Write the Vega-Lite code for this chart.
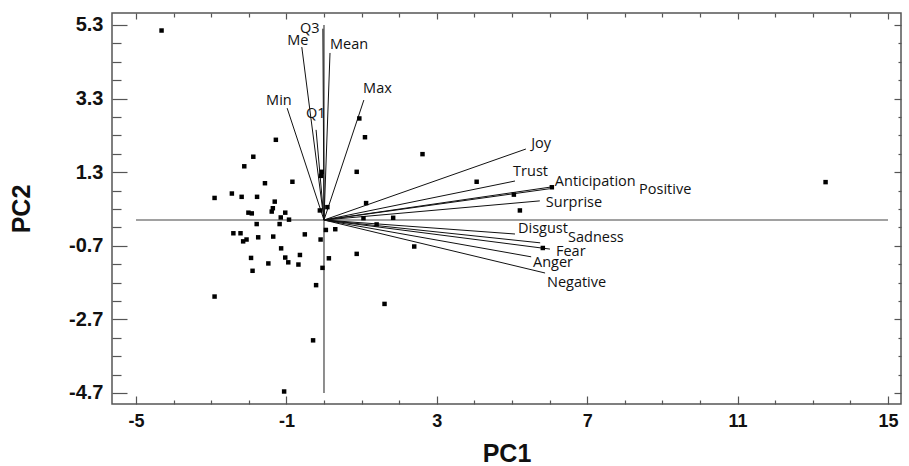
{
  "$schema": "https://vega.github.io/schema/vega-lite/v6.json",
  "width": 789,
  "height": 391,
  "autosize": "none",
  "padding": {"left": 112, "top": 13, "right": 8, "bottom": 62},
  "background": "white",
  "config": {
    "view": {"stroke": "#555555", "strokeWidth": 1.5},
    "axis": {"domain": false, "grid": false, "tickColor": "#555555", "tickWidth": 1.2,
      "labelFont": "Liberation Sans", "labelFontWeight": "bold", "labelFontSize": 18, "labelColor": "#111111",
      "titleFont": "Liberation Sans", "titleFontWeight": "bold", "titleFontSize": 25, "titleColor": "#111111"}
  },
  "datasets": {
    "points": [
      {"pc1": -4.32, "pc2": 5.15}, {"pc1": -1.28, "pc2": 2.18}, {"pc1": -1.88, "pc2": 1.72}, {"pc1": -2.12, "pc2": 1.46},
      {"pc1": -1.57, "pc2": 1.0}, {"pc1": -0.84, "pc2": 1.04}, {"pc1": -2.91, "pc2": 0.6}, {"pc1": -2.45, "pc2": 0.72},
      {"pc1": -2.19, "pc2": 0.63}, {"pc1": -1.78, "pc2": 0.63}, {"pc1": -1.31, "pc2": 0.5}, {"pc1": -2.01, "pc2": 0.2},
      {"pc1": -1.92, "pc2": 0.18}, {"pc1": -1.36, "pc2": 0.32}, {"pc1": -1.39, "pc2": 0.23}, {"pc1": -1.03, "pc2": 0.2},
      {"pc1": -1.15, "pc2": 0.07}, {"pc1": -0.93, "pc2": 0.01}, {"pc1": -1.79, "pc2": -0.11}, {"pc1": -1.18, "pc2": -0.11},
      {"pc1": -2.41, "pc2": -0.36}, {"pc1": -2.22, "pc2": -0.36}, {"pc1": -2.15, "pc2": -0.58}, {"pc1": -2.06, "pc2": -0.53},
      {"pc1": -1.75, "pc2": -0.47}, {"pc1": -1.35, "pc2": -0.45}, {"pc1": -0.51, "pc2": -0.39}, {"pc1": -0.11, "pc2": 0.26},
      {"pc1": 0.09, "pc2": 0.35}, {"pc1": 0.05, "pc2": -0.27}, {"pc1": 0.3, "pc2": -0.25}, {"pc1": -0.09, "pc2": -0.53},
      {"pc1": -1.14, "pc2": -0.77}, {"pc1": -1.94, "pc2": -1.03}, {"pc1": -1.48, "pc2": -1.18}, {"pc1": -1.03, "pc2": -1.02},
      {"pc1": -0.95, "pc2": -1.15}, {"pc1": -0.64, "pc2": -0.95}, {"pc1": -0.68, "pc2": -1.21}, {"pc1": -0.04, "pc2": -1.3},
      {"pc1": 0.13, "pc2": -1.04}, {"pc1": 0.87, "pc2": -0.92}, {"pc1": -0.21, "pc2": -1.77}, {"pc1": -2.91, "pc2": -2.08},
      {"pc1": 1.61, "pc2": -2.28}, {"pc1": -0.29, "pc2": -3.27}, {"pc1": -1.06, "pc2": -4.66}, {"pc1": -1.9, "pc2": -1.38},
      {"pc1": 0.94, "pc2": 2.76}, {"pc1": 1.09, "pc2": 2.25}, {"pc1": 0.87, "pc2": 1.31}, {"pc1": -0.06, "pc2": 1.31},
      {"pc1": -0.08, "pc2": 1.2}, {"pc1": 2.62, "pc2": 1.79}, {"pc1": 4.06, "pc2": 1.04}, {"pc1": 1.12, "pc2": 0.46},
      {"pc1": 1.05, "pc2": 0.05}, {"pc1": 1.84, "pc2": 0.06}, {"pc1": 1.4, "pc2": -0.12}, {"pc1": 2.4, "pc2": -0.72},
      {"pc1": 5.05, "pc2": 0.69}, {"pc1": 6.06, "pc2": 0.89}, {"pc1": 5.21, "pc2": 0.26}, {"pc1": 5.82, "pc2": -0.76},
      {"pc1": 13.34, "pc2": 1.03}
    ],
    "vectors": [
      {"name": "Min", "ox": 0, "oy": 0, "ex": -0.98, "ey": 3.04, "lx": -1.54, "ly": 3.23},
      {"name": "Me", "ox": 0, "oy": 0, "ex": -0.59, "ey": 4.7, "lx": -0.98, "ly": 4.87},
      {"name": "Q3", "ox": 0, "oy": 0, "ex": -0.03, "ey": 5.2, "lx": -0.64, "ly": 5.19},
      {"name": "Q1", "ox": 0, "oy": 0, "ex": -0.21, "ey": 2.45, "lx": -0.48, "ly": 2.88},
      {"name": "Mean", "ox": 0, "oy": 0, "ex": 0.16, "ey": 4.54, "lx": 0.16, "ly": 4.76},
      {"name": "Max", "ox": 0, "oy": 0, "ex": 1.06, "ey": 3.26, "lx": 1.04, "ly": 3.56},
      {"name": "Joy", "ox": 0, "oy": 0, "ex": 5.37, "ey": 1.93, "lx": 5.51, "ly": 2.07},
      {"name": "Trust", "ox": 0, "oy": 0, "ex": 5.08, "ey": 1.06, "lx": 5.03, "ly": 1.31},
      {"name": "Anticipation", "ox": 0, "oy": 0, "ex": 6.06, "ey": 0.9, "lx": 6.14, "ly": 1.03},
      {"name": "Positive", "ox": 0, "oy": 0, "ex": 6.0, "ey": 0.85, "lx": 8.38, "ly": 0.82},
      {"name": "Surprise", "ox": 0, "oy": 0, "ex": 5.74, "ey": 0.52, "lx": 5.9, "ly": 0.46},
      {"name": "Disgust", "ox": 0, "oy": 0, "ex": 5.08, "ey": -0.38, "lx": 5.16, "ly": -0.24},
      {"name": "Sadness", "ox": 0, "oy": 0, "ex": 5.75, "ey": -0.62, "lx": 6.49, "ly": -0.49},
      {"name": "Fear", "ox": 0, "oy": 0, "ex": 6.01, "ey": -0.79, "lx": 6.17, "ly": -0.87},
      {"name": "Anger", "ox": 0, "oy": 0, "ex": 5.51, "ey": -1.0, "lx": 5.56, "ly": -1.17},
      {"name": "Negative", "ox": 0, "oy": 0, "ex": 5.88, "ey": -1.44, "lx": 5.93, "ly": -1.71}
    ],
    "reflines": [
      {"x1": -5, "x2": 15, "y1": 0, "y2": 0},
      {"x1": 0, "x2": 0, "y1": -4.7, "y2": 5.3}
    ]
  },
  "resolve": {"axis": {"x": "independent", "y": "independent"}},
  "layer": [
    {
      "data": {"name": "reflines"},
      "mark": {"type": "rule", "color": "#444444", "strokeWidth": 1.2},
      "encoding": {
        "x": {"field": "x1", "type": "quantitative",
          "scale": {"domain": [-5.638, 15.346], "nice": false, "zero": false},
          "axis": {"orient": "bottom", "values": [-5, -1, 3, 7, 11, 15], "tickSize": -8, "labelPadding": 16,
            "labelExpr": "'' + datum.value", "title": "PC1", "titlePadding": 11}},
        "x2": {"field": "x2"},
        "y": {"field": "y1", "type": "quantitative",
          "scale": {"domain": [-5.0, 5.626], "nice": false, "zero": false},
          "axis": {"orient": "left", "values": [5.3, 3.3, 1.3, -0.7, -2.7, -4.7], "tickSize": -15, "labelPadding": 24,
            "labelFontSize": 20, "labelExpr": "'' + datum.value", "title": "PC2", "titlePadding": 34}},
        "y2": {"field": "y2"}
      }
    },
    {
      "data": {"name": "vectors"},
      "mark": {"type": "rule", "color": "#111111", "strokeWidth": 1},
      "encoding": {
        "x": {"field": "ox", "type": "quantitative",
          "scale": {"domain": [-5.638, 15.346], "nice": false, "zero": false},
          "axis": {"orient": "bottom", "values": [-4, -3, -2, 0, 1, 2, 4, 5, 6, 8, 9, 10, 12, 13, 14], "tickSize": -4, "labels": false, "title": null}},
        "x2": {"field": "ex"},
        "y": {"field": "oy", "type": "quantitative",
          "scale": {"domain": [-5.0, 5.626], "nice": false, "zero": false},
          "axis": {"orient": "left", "values": [4.8, 4.3, 3.8, 2.8, 2.3, 1.8, 0.8, 0.3, -0.2, -1.2, -1.7, -2.2, -3.2, -3.7, -4.2], "tickSize": -9, "labels": false, "title": null}},
        "y2": {"field": "ey"}
      }
    },
    {
      "data": {"name": "points"},
      "mark": {"type": "point", "shape": "square", "filled": true, "size": 20, "color": "#000000", "opacity": 1},
      "encoding": {
        "x": {"field": "pc1", "type": "quantitative",
          "scale": {"domain": [-5.638, 15.346], "nice": false, "zero": false},
          "axis": {"orient": "top", "values": [-5, -1, 3, 7, 11, 15], "tickSize": -6, "labels": false, "title": null}},
        "y": {"field": "pc2", "type": "quantitative",
          "scale": {"domain": [-5.0, 5.626], "nice": false, "zero": false},
          "axis": {"orient": "right", "values": [5.3, 3.3, 1.3, -0.7, -2.7, -4.7], "tickSize": -7, "labels": false, "title": null}}
      }
    },
    {
      "data": {"name": "vectors"},
      "mark": {"type": "text", "align": "left", "baseline": "middle", "font": "Open Sans", "fontSize": 14.5, "color": "#111111"},
      "encoding": {
        "x": {"field": "lx", "type": "quantitative",
          "scale": {"domain": [-5.638, 15.346], "nice": false, "zero": false},
          "axis": {"orient": "top", "values": [-4, -3, -2, 0, 1, 2, 4, 5, 6, 8, 9, 10, 12, 13, 14], "tickSize": -4, "labels": false, "title": null}},
        "y": {"field": "ly", "type": "quantitative",
          "scale": {"domain": [-5.0, 5.626], "nice": false, "zero": false},
          "axis": {"orient": "right", "values": [4.8, 4.3, 3.8, 2.8, 2.3, 1.8, 0.8, 0.3, -0.2, -1.2, -1.7, -2.2, -3.2, -3.7, -4.2], "tickSize": -3, "labels": false, "title": null}},
        "text": {"field": "name"}
      }
    }
  ]
}
